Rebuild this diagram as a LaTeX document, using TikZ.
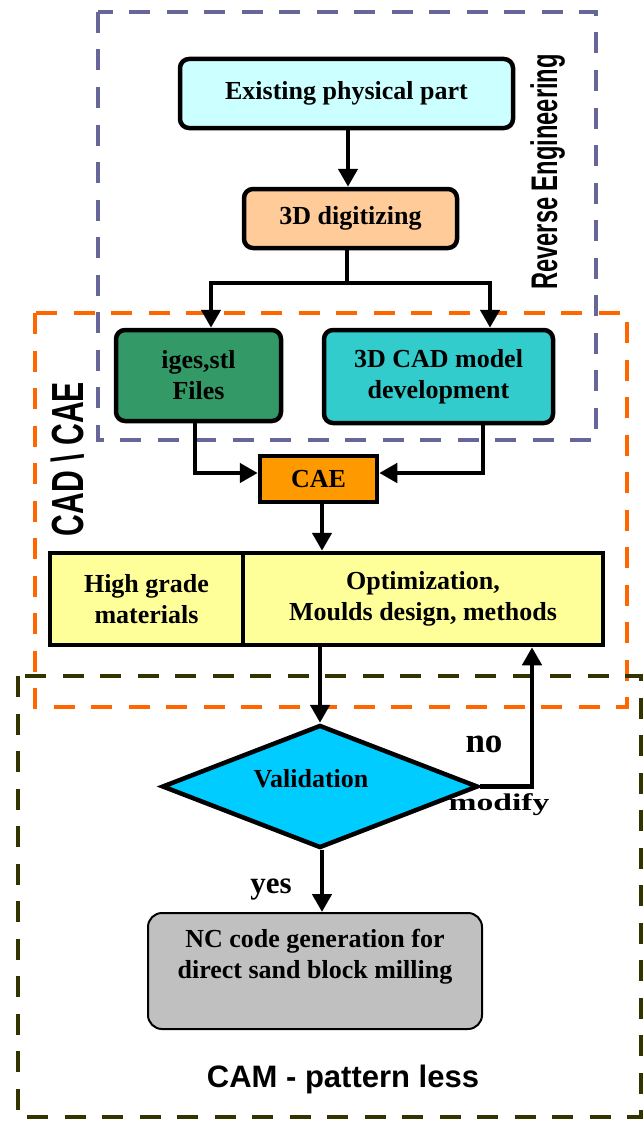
\documentclass[tikz,border=0pt]{standalone}
\usepackage{fontspec}
\setmainfont{Liberation Serif}
\newfontfamily\headsans{Liberation Sans}
\usetikzlibrary{arrows.meta,shapes.geometric}

\definecolor{revblue}{HTML}{666699}
\definecolor{cadorange}{HTML}{FF6600}
\definecolor{camolive}{HTML}{333300}
\definecolor{partcyan}{HTML}{CCFFFF}
\definecolor{digpeach}{HTML}{FFCC99}
\definecolor{filegreen}{HTML}{339966}
\definecolor{modelteal}{HTML}{33CCCC}
\definecolor{caeorange}{HTML}{FF9900}
\definecolor{designyellow}{HTML}{FFFF99}
\definecolor{valblue}{HTML}{00CCFF}
\definecolor{ncgrey}{HTML}{C0C0C0}

\begin{document}
\begin{tikzpicture}[x=1pt,y=-1pt,
  zone/.style={line width=4.5pt, dash pattern=on 21pt off 16.5pt},
  boxlabel/.style={font=\bfseries\fontsize{26}{31}\selectfont, align=center},
  stepbox/.style={boxlabel, draw, line width=4.5pt, rounded corners=9pt, inner sep=0pt},
  flat/.style={boxlabel, draw, line width=4.5pt, inner sep=0pt},
  link/.style={line width=4.5pt, -{Triangle[length=18pt,width=19pt]}},
  zonetitle/.style={font=\headsans\bfseries},
]
\useasboundingbox (0,0) rectangle (644,1124);

% stage frames
\draw[zone, revblue] (98,12) rectangle (596,440);
\draw[zone, cadorange] (35,313) rectangle (627,707);
\draw[zone, camolive] (18,676) rectangle (641,1117);

% stage titles
\node[zonetitle, rotate=90, anchor=base, font=\headsans\bfseries\fontsize{37}{40}\selectfont]
  (tre) at (557,172) {\scalebox{0.64}[1]{Reverse Engineering}};
\node[zonetitle, rotate=90, anchor=base, font=\headsans\bfseries\fontsize{45}{48}\selectfont]
  (tcad) at (83,459) {\scalebox{0.67}[1]{CAD \textbackslash\ CAE}};
\node[zonetitle, anchor=base, font=\headsans\bfseries\fontsize{31}{34}\selectfont]
  (tcam) at (343,1087) {CAM - pattern less};

% process boxes
\node[stepbox, fill=partcyan, minimum width=333pt, minimum height=69pt] (part) at (346.5,93.5) {Existing physical part};
\node[stepbox, fill=digpeach, minimum width=213pt, minimum height=59pt] (dig) at (350.5,218.5) {3D digitizing};
\node[stepbox, fill=filegreen, minimum width=165pt, minimum height=91pt] (files) at (198.5,375.5) {iges,stl\\Files};
\node[stepbox, fill=modelteal, minimum width=229pt, minimum height=93pt] (cad) at (438.5,376.5) {3D CAD model\\development};
\node[flat, fill=caeorange, minimum width=117pt, minimum height=46pt] (cae) at (318.5,479) {CAE};
\node[flat, fill=designyellow, minimum width=193pt, minimum height=92pt] (mat) at (146.5,599) {High grade\\materials};
\node[flat, fill=designyellow, minimum width=360pt, minimum height=92pt] (opt) at (423,599) {Optimization,\\Moulds design, methods};
\node[diamond, draw, line width=4.5pt, fill=valblue, minimum width=316pt, minimum height=123pt, inner sep=0pt] (val) at (320,786.5) {};
\node[boxlabel, anchor=base] (valtext) at (311,787) {Validation};
\node[draw, line width=2pt, rounded corners=14pt, fill=ncgrey, minimum width=334pt, minimum height=116pt] (nc) at (315,971) {};
\node[boxlabel] (nctext) at (315,957) {NC code generation for\\direct sand block milling};

% connectors
\draw[link] (348,0 |- part.south) -- (348,0 |- dig.north);
\coordinate (split) at (347,283);
\draw[line width=4.5pt] (347,0 |- dig.south) -- (split);
\draw[link] (split) -| (211,0 |- files.north);
\draw[link] (split) -| (490,0 |- cad.north);
\draw[link] (195,0 |- files.south) |- (cae.west |- 0,473);
\draw[link] (483,0 |- cad.south) |- (cae.east |- 0,473);
\draw[link] (322,0 |- cae.south) -- (322,0 |- opt.north);
\draw[link] (val.north |- opt.south) -- (val.north);
\draw[link] (val.east) -| (532,0 |- opt.south);
\draw[link] (322,0 |- val.south) -- (322,0 |- nc.north);

% branch labels
\node[anchor=base, font=\bfseries\fontsize{35}{38}\selectfont] (lno) at (484,752) {no};
\node[anchor=base, font=\bfseries\fontsize{24}{26}\selectfont] (lmod) at (499,810) {\scalebox{1.4}[1]{modify}};
\node[anchor=base, font=\bfseries\fontsize{31}{34}\selectfont] (lyes) at (271,893) {yes};
\end{tikzpicture}
\end{document}
